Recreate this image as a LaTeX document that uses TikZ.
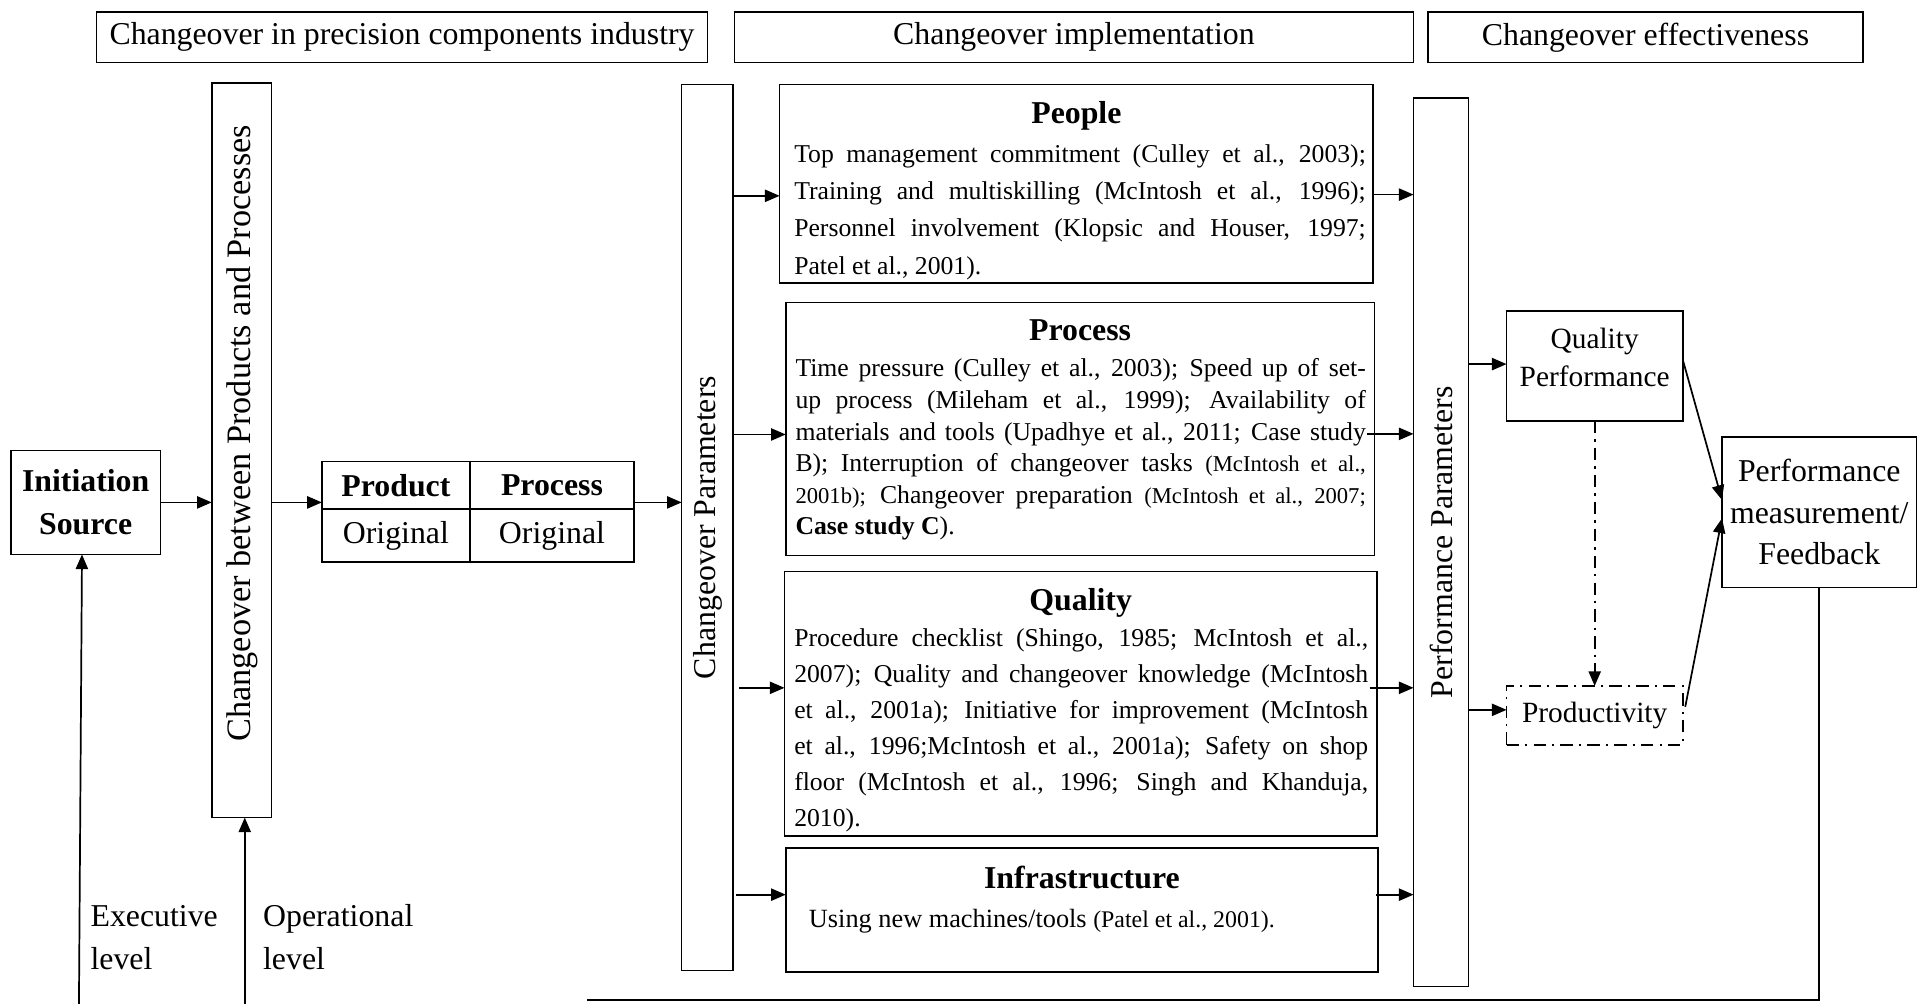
\documentclass[tikz,border=0pt]{standalone}
\usepackage{fontspec}
\setmainfont{Liberation Serif}
\usetikzlibrary{arrows.meta,calc}

% one justified line of a text block, and a final (ragged) line
\newcommand{\jline}[1]{\makebox[\linewidth][s]{#1}\par}
\newcommand{\lastline}[1]{\makebox[\linewidth][l]{#1}\par}
\newcommand{\citesmall}{\fontsize{18.5}{20}\selectfont}

\begin{document}
\begin{tikzpicture}[x=1pt,y=-1pt,
  every node/.style={inner sep=0pt,outer sep=0pt},
  frame/.style={draw,line width=1.3pt,rectangle},
  arr/.style={line width=1.4pt,-{Triangle[length=12pt,width=10pt]}},
  lbl/.style={font=\fontsize{26}{34}\selectfont},
  hd/.style={font=\bfseries\fontsize{26}{30}\selectfont,anchor=base},
  txt/.style={anchor=base west},
  dashdot/.style={dash pattern=on 10pt off 5pt on 2pt off 5pt},
]
\useasboundingbox (0,0) rectangle (1568,820);

% ---- column headers
\node[frame,lbl,minimum width=499pt,minimum height=41pt] (hdA) at (328.5,30.5) {Changeover in precision components industry};
\node[frame,lbl,minimum width=555pt,minimum height=41pt] (hdB) at (877.5,30.5) {Changeover implementation};
\node[frame,lbl,minimum width=355pt,minimum height=41pt] (hdC) at (1344.5,30.5) {Changeover effectiveness};

% ---- initiation and changeover bar
\node[frame,align=center,font=\bfseries\fontsize{26}{35}\selectfont,minimum width=122pt,minimum height=85pt] (init) at (70,410.5) {Initiation\\Source};
\node[frame,minimum width=49pt,minimum height=600pt] (barA) at (197.5,368) {};
\node[rotate=90,font=\fontsize{28}{30}\selectfont] (barAtxt) at (198,354) {Changeover between Products and Processes};

% ---- product / process table
\node[frame,minimum width=121pt,minimum height=39pt,font=\bfseries\fontsize{26}{30}\selectfont] (tPd) at (323.5,396.5) {Product};
\node[frame,minimum width=134pt,minimum height=39pt,font=\bfseries\fontsize{26}{30}\selectfont] (tPc) at (451,396.5) {Process};
\node[frame,lbl,minimum width=121pt,minimum height=43pt] (tOa) at (323.5,437.5) {Original};
\node[frame,lbl,minimum width=134pt,minimum height=43pt] (tOb) at (451,437.5) {Original};

% ---- changeover parameters bar
\node[frame,minimum width=42pt,minimum height=724pt] (barB) at (578,431) {};
\node[lbl,rotate=90] (barBtxt) at (578,431) {Changeover Parameters};

% ---- parameter boxes
\node[frame,minimum width=485pt,minimum height=162pt] (people) at (879.5,150) {};
\node[hd] (peopleHd) at (879.5,101) {People};
\node[txt] (peopleTx) at (649,132.5) {\parbox[t]{467pt}{\fontsize{21}{30.5}\selectfont
\jline{Top management commitment (Culley et al., 2003);}
\jline{Training and multiskilling (McIntosh et al., 1996);}
\jline{Personnel involvement (Klopsic and Houser, 1997;}
\lastline{Patel et al., 2001).}}};

\node[frame,minimum width=481pt,minimum height=207pt] (process) at (882.5,350.5) {};
\node[hd] (processHd) at (882.5,278.5) {Process};
\node[txt] (processTx) at (650,308) {\parbox[t]{466pt}{\fontsize{21}{25.8}\selectfont
\jline{Time pressure (Culley et al., 2003); Speed up of set-}
\jline{up process (Mileham et al., 1999); Availability of}
\jline{materials and tools (Upadhye et al., 2011; Case study}
\jline{B); Interruption of changeover tasks {\citesmall(McIntosh et al.,}}
\jline{{\citesmall 2001b);} Changeover preparation {\citesmall(McIntosh et al., 2007;}}
\lastline{\textbf{Case study C}).}}};

\node[frame,minimum width=484pt,minimum height=216pt] (quality) at (883,575) {};
\node[hd] (qualityHd) at (883,499) {Quality};
\node[txt] (qualityTx) at (649,528) {\parbox[t]{469pt}{\fontsize{21}{29.5}\selectfont
\jline{Procedure checklist (Shingo, 1985; McIntosh et al.,}
\jline{2007); Quality and changeover knowledge (McIntosh}
\jline{et al., 2001a); Initiative for improvement (McIntosh}
\jline{et al., 1996;McIntosh et al., 2001a); Safety on shop}
\jline{floor (McIntosh et al., 1996; Singh and Khanduja,}
\lastline{2010).}}};

\node[frame,minimum width=484pt,minimum height=101pt] (infra) at (884,743.5) {};
\node[hd] (infraHd) at (884,726) {Infrastructure};
\node[txt,font=\fontsize{21.5}{28}\selectfont] (infraTx) at (661,758) {Using new machines/tools {\fontsize{19.5}{22}\selectfont(Patel et al., 2001).}};

% ---- performance parameters bar
\node[frame,minimum width=45pt,minimum height=726pt] (barC) at (1177.5,443) {};
\node[lbl,rotate=90] (barCtxt) at (1177.5,443) {Performance Parameters};

% ---- effectiveness measures
\node[frame,minimum width=144pt,minimum height=90pt] (qp) at (1303,299) {};
\node[align=center,font=\fontsize{24}{31}\selectfont] (qpTx) at (1303,292) {Quality\\Performance};
\node[draw,line width=1.3pt,dashdot,font=\fontsize{24}{30}\selectfont,minimum width=144pt,minimum height=48pt] (prod) at (1303,584.5) {Productivity};
\node[frame,lbl,align=center,minimum width=159pt,minimum height=123pt] (pm) at (1486.5,418.5) {Performance\\measurement/\\Feedback};

% ---- level labels
\node[txt,lbl] (exA) at (74,757) {Executive};
\node[txt,lbl] (exB) at (74,792) {level};
\node[txt,lbl] (opA) at (215,757) {Operational};
\node[txt,lbl] (opB) at (215,792) {level};

% ---- connectors, left part
\draw[arr] (init.east) -- (init.east -| barA.west);
\draw[arr] (init.east -| barA.east) -- (init.east -| tPd.west);
\draw[arr] (init.east -| tPc.east) -- (init.east -| barB.west);

\coordinate (exFoot) at (64.5,822);
\draw[arr] (exFoot) -- ($(init.south)+(-3,0)$);
\coordinate (opFoot) at (200,822);
\draw[arr] (opFoot) -- (opFoot |- barA.south);

% ---- connectors into and out of the parameter boxes
\coordinate (inPeople) at ($(people.west)+(0,10)$);
\draw[arr] (barB.east |- inPeople) -- (inPeople);
\coordinate (outPeople) at ($(people.east)+(0,9)$);
\draw[arr] (outPeople) -- (outPeople -| barC.west);

\coordinate (inProcess) at ($(process.west)+(0,4.5)$);
\draw[arr] (barB.east |- inProcess) -- (inProcess);
\coordinate (outProcess) at ($(process.east)+(-6,4)$);
\draw[arr] (outProcess) -- (outProcess -| barC.west);

\coordinate (inQuality) at ($(quality.west)+(0,-13)$);
\draw[arr,shorten <=5pt] (barB.east |- inQuality) -- (inQuality);
\coordinate (outQuality) at ($(quality.east)+(-6,-13)$);
\draw[arr] (outQuality) -- (outQuality -| barC.west);

\coordinate (inInfra) at ($(infra.west)+(0,-12.5)$);
\draw[arr,shorten <=2pt] (barB.east |- inInfra) -- (inInfra);
\coordinate (outInfra) at ($(infra.east)+(-2,-12.5)$);
\draw[arr] (outInfra) -- (outInfra -| barC.west);

% ---- connectors, right part
\coordinate (inQp) at ($(qp.west)+(0,-1.5)$);
\draw[arr] (barC.east |- inQp) -- (inQp);
\coordinate (inProd) at ($(prod.west)+(0,-4.5)$);
\draw[arr] (barC.east |- inProd) -- (inProd);
\draw[arr,dashdot] (qp.south) -- (prod.north);
\draw[arr] ($(qp.east)+(0,-5)$) -- ($(pm.west)+(0,-10)$);
\draw[arr] ($(prod.east)+(2,-7)$) -- ($(pm.west)+(0,5)$);

% ---- feedback return line
\coordinate (fbEnd) at (480,817);
\draw[line width=1.4pt] (pm.south) -- (pm.south |- fbEnd) -- (fbEnd);
\end{tikzpicture}
\end{document}
